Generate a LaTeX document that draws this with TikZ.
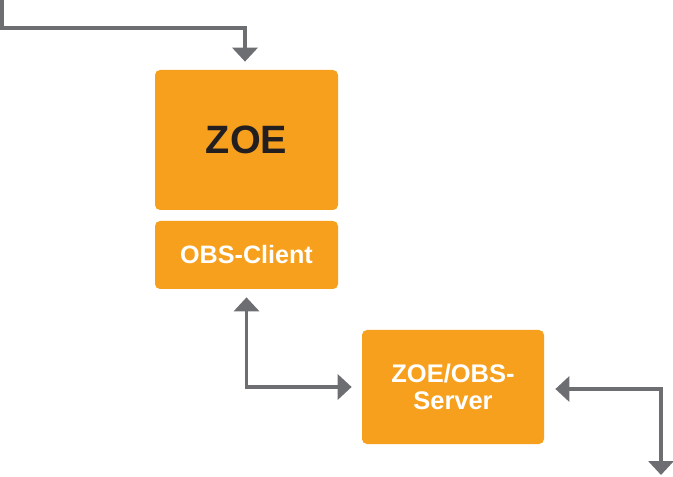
\documentclass[tikz,border=0pt]{standalone}
\usepackage{fontspec}
\setmainfont{Liberation Sans}
\usetikzlibrary{arrows.meta}

\definecolor{zoeorange}{RGB}{246,160,30}
\definecolor{linegray}{RGB}{109,110,113}
\definecolor{textdark}{RGB}{35,31,32}

\tikzset{
	block/.style={fill=zoeorange, rounded corners=0.1cm, inner sep=0pt, align=center, font=\bfseries},
	conn/.style={linegray, line width=2.27pt, arrows={-Triangle[width=0.5cm, length=0.28cm]}},
	both/.style={conn, arrows={Triangle[width=0.5cm, length=0.28cm]-Triangle[width=0.5cm, length=0.28cm]}},
}

\begin{document}
\begin{tikzpicture}
		\useasboundingbox (0, 0) rectangle (13.46, -9.54);

		\node[block, minimum width=3.66cm, minimum height=2.8cm, text=textdark, font=\bfseries\fontsize{22.5}{27}\selectfont]	(zoe) at (4.93, -2.8) {ZOE};
		\node[block, minimum width=3.66cm, minimum height=1.36cm, text=white, font=\bfseries\fontsize{14.3}{15.5}\selectfont]	(client) at (4.93, -5.1) {OBS-Client};
		\node[block, minimum width=3.64cm, minimum height=2.28cm, text=white, font=\bfseries\fontsize{14.5}{15.5}\selectfont]	(server) at (9.06, -7.74) {ZOE/OBS-\\Server};

		\coordinate (in) at (0.04, 0);
		\coordinate (out) at (13.22, -9.5);

		\draw[conn]	(in) |- (4.9, -0.56) -- ([yshift=0.16cm]zoe.north -| 4.9, 0);
		\draw[both]	([yshift=-0.16cm]client.south) |- ([xshift=-0.2cm]server.west);
		\draw[both]	([xshift=0.22cm, yshift=-0.04cm]server.east) -| (out);
	\end{tikzpicture}
\end{document}
